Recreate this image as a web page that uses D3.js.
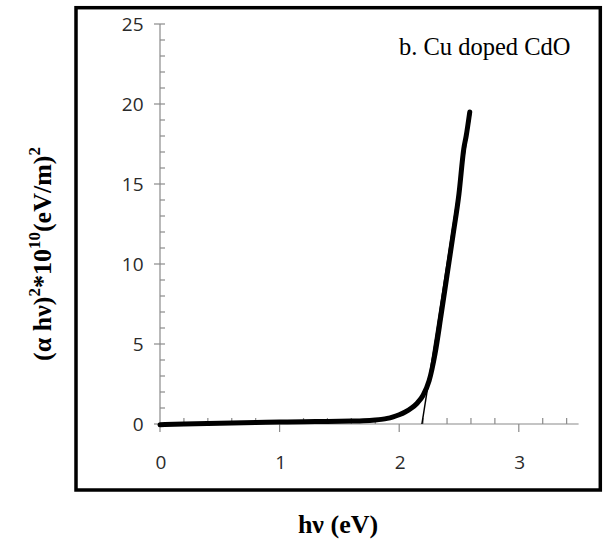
<!DOCTYPE html>
<html>
<head>
<meta charset="utf-8">
<script src="https://cdn.jsdelivr.net/npm/d3@7"></script>
<style>
  html, body { margin: 0; padding: 0; background: #fff; }
  svg { display: block; }
</style>
</head>
<body>
<svg id="chart" width="608" height="542"></svg>
<script>
// ---- data ----
const hv = [0, 0.2, 0.4, 0.6, 0.8, 1.0, 1.2, 1.4, 1.6, 1.7, 1.8, 1.85, 1.9, 1.95, 2.0, 2.05, 2.1, 2.15, 2.2, 2.25, 2.3, 2.35, 2.4, 2.45, 2.5, 2.54, 2.56, 2.59];
const ahv2 = [-0.05, 0.0, 0.03, 0.06, 0.09, 0.12, 0.14, 0.16, 0.18, 0.2, 0.25, 0.29, 0.35, 0.45, 0.58, 0.75, 0.98, 1.3, 1.8, 2.7, 4.4, 6.8, 9.3, 11.8, 14.4, 17.2, 18.0, 19.5];
const fitX = [2.19, 2.6];
const fitY = [0, 19.5];
const xMajorTicks = [0, 1, 2, 3];
const xMinorTicks = [0.2, 0.4, 0.6, 0.8, 1.2, 1.4, 1.6, 1.8, 2.2, 2.4, 2.6, 2.8, 3.2, 3.4];
const yMajorTicks = [0, 5, 10, 15, 20, 25];
const yMinorTicks = [1, 2, 3, 4, 6, 7, 8, 9, 11, 12, 13, 14, 16, 17, 18, 19, 21, 22, 23, 24];
const xDomain = [0, 3.5];
const yDomain = [0, 25];
const annotation = "b. Cu doped CdO";
const xLabel = "hν (eV)";

// ---- drawing ----
const svg = d3.select("#chart");
const x = d3.scaleLinear().domain(xDomain).range([160, 578.6]);
const y = d3.scaleLinear().domain(yDomain).range([424, 24]);
const axisColor = "#8a8a8a";

// frame
svg.append("rect")
  .attr("x", 76).attr("y", 7.7).attr("width", 524.3).attr("height", 482.3)
  .attr("fill", "none").attr("stroke", "#000").attr("stroke-width", 3.5);

const g = svg.append("g");

// axes lines
g.append("line")
  .attr("x1", x(xDomain[0])).attr("x2", x(xDomain[1]))
  .attr("y1", y(0)).attr("y2", y(0))
  .attr("stroke", axisColor).attr("stroke-width", 1.2);
g.append("line")
  .attr("x1", x(0)).attr("x2", x(0))
  .attr("y1", y(yDomain[0])).attr("y2", y(yDomain[1]))
  .attr("stroke", axisColor).attr("stroke-width", 1.2);

// x ticks
g.selectAll(".xmaj").data(xMajorTicks).join("line")
  .attr("x1", d => x(d)).attr("x2", d => x(d))
  .attr("y1", y(0)).attr("y2", y(0) + 8)
  .attr("stroke", axisColor).attr("stroke-width", 1.2);
g.selectAll(".xmin").data(xMinorTicks).join("line")
  .attr("x1", d => x(d)).attr("x2", d => x(d))
  .attr("y1", y(0) - 6).attr("y2", y(0))
  .attr("stroke", axisColor).attr("stroke-width", 1.2);
g.selectAll(".xlab").data(xMajorTicks).join("text")
  .attr("x", d => x(d) + 1).attr("y", 469)
  .attr("text-anchor", "middle")
  .attr("font-family", "'Open Sans', sans-serif").attr("font-size", 19)
  .attr("fill", "#2a2a2a")
  .text(d => d);

// y ticks
g.selectAll(".ymaj").data(yMajorTicks).join("line")
  .attr("x1", x(0) - 6).attr("x2", x(0) + 5)
  .attr("y1", d => y(d)).attr("y2", d => y(d))
  .attr("stroke", axisColor).attr("stroke-width", 1.2);
g.selectAll(".ymin").data(yMinorTicks).join("line")
  .attr("x1", x(0)).attr("x2", x(0) + 5)
  .attr("y1", d => y(d)).attr("y2", d => y(d))
  .attr("stroke", axisColor).attr("stroke-width", 1.2);
g.selectAll(".ylab").data(yMajorTicks).join("text")
  .attr("x", 143.5).attr("y", d => y(d))
  .attr("dy", "0.35em")
  .attr("text-anchor", "end")
  .attr("font-family", "'Open Sans', sans-serif").attr("font-size", 19)
  .attr("fill", "#2a2a2a")
  .text(d => d);

// data curve
const pts = hv.map((d, i) => [d, ahv2[i]]);
g.append("path")
  .datum(pts)
  .attr("d", d3.line().x(d => x(d[0])).y(d => y(d[1])).curve(d3.curveMonotoneX))
  .attr("fill", "none").attr("stroke", "#000").attr("stroke-width", 5)
  .attr("stroke-linecap", "round").attr("stroke-linejoin", "round");

// fit line
g.append("path")
  .datum(fitX.map((d, i) => [d, fitY[i]]))
  .attr("d", d3.line().x(d => x(d[0])).y(d => y(d[1])))
  .attr("fill", "none").attr("stroke", "#000").attr("stroke-width", 1.5);

// annotation
svg.append("text")
  .attr("x", 399).attr("y", 55)
  .attr("font-family", "'Liberation Serif', 'Times New Roman', serif")
  .attr("font-size", 24.5)
  .attr("fill", "#000")
  .text(annotation);

// x label
svg.append("text")
  .attr("x", 338).attr("y", 533)
  .attr("text-anchor", "middle")
  .attr("font-family", "'Liberation Serif', 'Times New Roman', serif")
  .attr("font-weight", "bold").attr("font-size", 26)
  .text(xLabel);

// y label
const yl = svg.append("text")
  .attr("transform", "translate(51,254) rotate(-90)")
  .attr("text-anchor", "middle")
  .attr("font-family", "'Liberation Serif', 'Times New Roman', serif")
  .attr("font-weight", "bold").attr("font-size", 26);
yl.append("tspan").text("(α hν)");
yl.append("tspan").attr("dy", -11).attr("font-size", 17).text("2");
yl.append("tspan").attr("dy", 11).text("*10");
yl.append("tspan").attr("dy", -11).attr("font-size", 17).text("10");
yl.append("tspan").attr("dy", 11).text("(eV/m)");
yl.append("tspan").attr("dy", -11).attr("font-size", 17).text("2");
</script>
</body>
</html>
